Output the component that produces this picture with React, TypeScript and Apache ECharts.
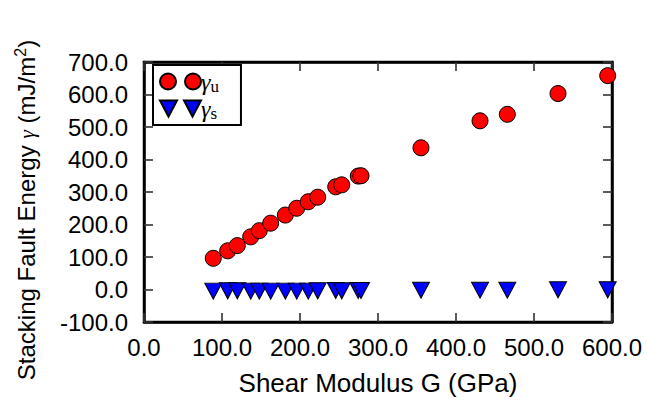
import React, { useEffect, useRef } from "react";
import * as echarts from "echarts";

const shearModulus = [88.8, 107.3, 119.6, 136.8, 147.8, 162.4, 181.2, 195.8, 210.6, 222.7, 245.8, 253.5, 274.7, 278.2, 355.1, 430.8, 465.8, 530.8, 594.5];
const gammaU = [96, 119, 135, 162, 181, 204, 229, 250, 270, 284, 316, 322, 349, 350, 436, 519, 539, 603, 658];
const gammaS = [-5, -4, -4, -5, -5, -5, -5, -5, -5, -4, -3, -4, -3, -3, -2, -2, -2, -1, -1];

const xTicks = [0, 100, 200, 300, 400, 500, 600];
const yTicks = [-100, 0, 100, 200, 300, 400, 500, 600, 700];

const SANS = "'Liberation Sans', Arial, Helvetica, sans-serif";
const SERIF = "'Liberation Serif', 'DejaVu Serif', serif";

export default function App() {
  const ref = useRef<HTMLDivElement>(null);
  useEffect(() => {
    if (!ref.current) return;
    const chart = echarts.init(ref.current, undefined, { renderer: "svg" });
    const xMin = xTicks[0], xMax = xTicks[xTicks.length - 1];
    const yMin = yTicks[0], yMax = yTicks[yTicks.length - 1];
    const mkTick = (c: string) => ({ show: true, inside: true, length: 9, lineStyle: { color: c, width: 1.6 } });
    const mkLine = (c: string) => ({ show: true, onZero: false, lineStyle: { color: c, width: 2.5 } });
    const circles = "path://M0,8A8,8 0 1,1 16,8A8,8 0 1,1 0,8Z M25,8A8,8 0 1,1 41,8A8,8 0 1,1 25,8Z";
    const tris = "path://M0,0L17,0L8.5,16Z M24,0L41,0L32.5,16Z";
    chart.setOption({
      animation: false,
      grid: { left: 144, top: 62, right: 35, bottom: 82, outerBoundsMode: "none", show: true, borderColor: "#000", borderWidth: 2.5, backgroundColor: "transparent" },
      legend: {
        show: true,
        orient: "vertical",
        left: 153,
        top: 65,
        padding: [3, 22, 3, 6],
        itemGap: 0,
        itemWidth: 41,
        itemHeight: 16,
        backgroundColor: "#fff",
        borderColor: "#000",
        borderWidth: 2,
        borderRadius: 0,
        z: 10,
        data: [
          { name: "γu", icon: circles },
          { name: "γs", icon: tris },
        ],
        formatter: (name: string) => (name === "γu" ? "{g|γ}{s|u}" : "{g|γ}{s|s}"),
        textStyle: {
          padding: [0, 0, 0, -5],
          rich: {
            g: { fontFamily: SERIF, fontStyle: "italic", fontSize: 24, lineHeight: 22, color: "#000" },
            s: { fontFamily: SERIF, fontSize: 17, lineHeight: 16, color: "#000", padding: [10, 0, 0, 0] },
          },
        },
      },
      xAxis: [
        {
          type: "value",
          min: xMin,
          max: xMax,
          interval: 100,
          position: "bottom",
          name: "Shear Modulus G (GPa)",
          nameLocation: "middle",
          nameGap: 48,
          nameTextStyle: { fontFamily: SANS, fontSize: 26, color: "#000" },
          axisLine: mkLine("#000"),
          axisTick: mkTick("#333"),
          splitLine: { show: false },
          axisLabel: { fontFamily: SANS, fontSize: 24, color: "#000", margin: 13, formatter: (v: number) => v.toFixed(1) },
        },
        {
          type: "value",
          min: xMin,
          max: xMax,
          interval: 100,
          position: "top",
          axisLine: mkLine("#000"),
          axisTick: mkTick("#333"),
          splitLine: { show: false },
          axisLabel: { show: false },
        },
      ],
      yAxis: [
        {
          type: "value",
          min: yMin,
          max: yMax,
          interval: 100,
          position: "left",
          name: "{a|Stacking Fault Energy }{g|γ}{a| (mJ/m}{p|2}{a|)}",
          nameLocation: "middle",
          nameGap: 104,
          nameRotate: 90,
          nameTextStyle: {
            padding: [0, 36, 0, 0],
            rich: {
              a: { fontFamily: SANS, fontSize: 24, color: "#000" },
              g: { fontFamily: SERIF, fontStyle: "italic", fontSize: 22, color: "#000" },
              p: { fontFamily: SANS, fontSize: 16, color: "#000", padding: [0, 0, 12, 0] },
            },
          },
          axisLine: mkLine("#000"),
          axisTick: mkTick("#333"),
          splitLine: { show: false },
          axisLabel: { fontFamily: SANS, fontSize: 24, color: "#000", margin: 16, formatter: (v: number) => v.toFixed(1) },
        },
        {
          type: "value",
          min: yMin,
          max: yMax,
          interval: 100,
          position: "right",
          axisLine: mkLine("#000"),
          axisTick: mkTick("#333"),
          splitLine: { show: false },
          axisLabel: { show: false },
        },
      ],
      series: [
        {
          name: "γu",
          type: "scatter",
          xAxisIndex: 0,
          yAxisIndex: 0,
          data: shearModulus.map((g, i) => [g, gammaU[i]]),
          symbol: "circle",
          symbolSize: 16,
          itemStyle: { color: "#ff0000", borderColor: "#000", borderWidth: 1, opacity: 1 },
          emphasis: { disabled: true },
          clip: false,
          z: 3,
        },
        {
          name: "γs",
          type: "scatter",
          xAxisIndex: 1,
          yAxisIndex: 1,
          data: shearModulus.map((g, i) => [g, gammaS[i]]),
          symbol: "triangle",
          symbolRotate: 180,
          symbolSize: [17, 16],
          itemStyle: { color: "#0000ff", borderColor: "#000", borderWidth: 1, opacity: 1 },
          emphasis: { disabled: true },
          clip: false,
          z: 3,
        },
      ],
    });
    return () => chart.dispose();
  }, []);
  return <div ref={ref} style={{ position: "absolute", left: 0, top: 0, width: 647, height: 404 }} />;
}
